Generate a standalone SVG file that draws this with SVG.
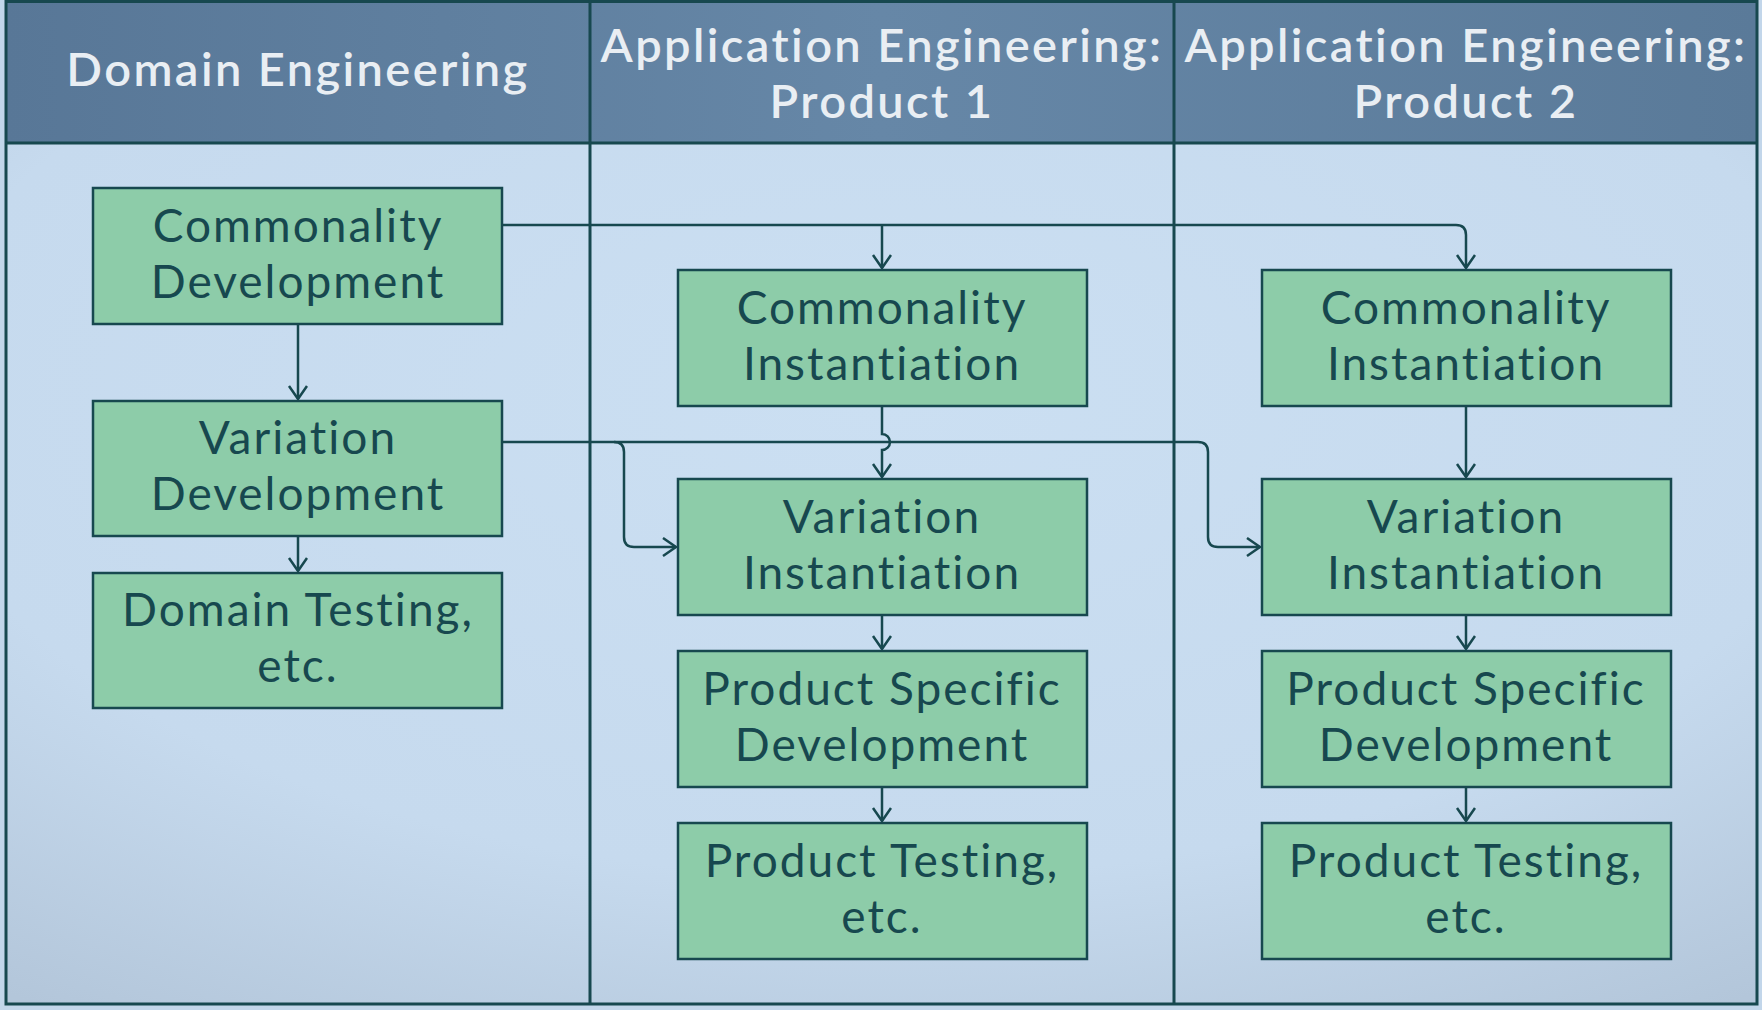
<svg xmlns="http://www.w3.org/2000/svg" width="1762" height="1010" viewBox="0 0 1762 1010">
<style>
.hdr{font-family:Lato,"Open Sans","Liberation Sans",sans-serif;font-size:47px;font-weight:600;fill:#e9eef3;text-anchor:middle;letter-spacing:2.4px}
.box{fill:#8dcca9;stroke:#17484f;stroke-width:2.5}
.lbl{font-family:Lato,"Open Sans","Liberation Sans",sans-serif;font-size:46px;fill:#17484f;text-anchor:middle;letter-spacing:2px}
.ln{fill:none;stroke:#17484f;stroke-width:2.5}
.grid{fill:none;stroke:#17484f;stroke-width:3}
</style>
<defs>
<linearGradient id="hg" x1="0" y1="0" x2="1" y2="0">
<stop offset="0" stop-color="#587797"/>
<stop offset="0.5" stop-color="#6687a7"/>
<stop offset="1" stop-color="#5a7a99"/>
</linearGradient>
<radialGradient id="bg" cx="0.5" cy="0.3" r="0.85">
<stop offset="0" stop-color="#cbdff2"/>
<stop offset="0.65" stop-color="#c6daee"/>
<stop offset="1" stop-color="#b3c6da"/>
</radialGradient>
<marker id="arr" markerUnits="userSpaceOnUse" markerWidth="18" markerHeight="24" refX="14" refY="10" orient="auto">
<path d="M1,1 L14,10 L1,19" fill="none" stroke="#17484f" stroke-width="2.5"/>
</marker>
</defs>
<rect x="0" y="0" width="1762" height="1010" fill="#c2d6ea"/>
<rect x="6" y="143" width="1751" height="861" fill="url(#bg)"/>
<rect x="6" y="1" width="1751" height="142" fill="url(#hg)"/>
<g id="frame">
<rect class="grid" x="6" y="1.5" width="1751" height="1002.5"/>
<line class="grid" x1="6" y1="143" x2="1757" y2="143"/>
<line class="grid" x1="590" y1="0" x2="590" y2="1004"/>
<line class="grid" x1="1174" y1="0" x2="1174" y2="1004"/>
</g>
<g id="headers">
<text class="hdr" x="298" y="86">Domain Engineering</text>
<text class="hdr" x="882" y="62">Application Engineering:</text>
<text class="hdr" x="882" y="118">Product 1</text>
<text class="hdr" x="1466" y="62">Application Engineering:</text>
<text class="hdr" x="1466" y="118">Product 2</text>
</g>
<g id="connectors">
<path class="ln" d="M502,225 H1456 Q1466,225 1466,235 V268" marker-end="url(#arr)"/>
<path class="ln" d="M882,225 V268" marker-end="url(#arr)"/>
<path class="ln" d="M298,324 V399" marker-end="url(#arr)"/>
<path class="ln" d="M298,536 V571" marker-end="url(#arr)"/>
<path class="ln" d="M502,442 H614 Q624,442 624,452 V537 Q624,547 634,547 H676" marker-end="url(#arr)"/>
<path class="ln" d="M614,442 H1198 Q1208,442 1208,452 V537 Q1208,547 1218,547 H1260" marker-end="url(#arr)"/>
<path class="ln" d="M882,406 V434 A8,8 0 0 1 882,450 V477" marker-end="url(#arr)"/>
<path class="ln" d="M1466,406 V477" marker-end="url(#arr)"/>
<path class="ln" d="M882,615 V649" marker-end="url(#arr)"/>
<path class="ln" d="M882,787 V821" marker-end="url(#arr)"/>
<path class="ln" d="M1466,615 V649" marker-end="url(#arr)"/>
<path class="ln" d="M1466,787 V821" marker-end="url(#arr)"/>
</g>
<g id="commonality-development">
<rect class="box" x="93" y="188" width="409" height="136"/>
<text class="lbl" x="298" y="242">Commonality</text>
<text class="lbl" x="298" y="298">Development</text>
</g>
<g id="variation-development">
<rect class="box" x="93" y="401" width="409" height="135"/>
<text class="lbl" x="298" y="454">Variation</text>
<text class="lbl" x="298" y="510">Development</text>
</g>
<g id="domain-testing">
<rect class="box" x="93" y="573" width="409" height="135"/>
<text class="lbl" x="298" y="626">Domain Testing,</text>
<text class="lbl" x="298" y="682">etc.</text>
</g>
<g id="commonality-instantiation-1">
<rect class="box" x="678" y="270" width="409" height="136"/>
<text class="lbl" x="882" y="324">Commonality</text>
<text class="lbl" x="882" y="380">Instantiation</text>
</g>
<g id="variation-instantiation-1">
<rect class="box" x="678" y="479" width="409" height="136"/>
<text class="lbl" x="882" y="533">Variation</text>
<text class="lbl" x="882" y="589">Instantiation</text>
</g>
<g id="product-specific-development-1">
<rect class="box" x="678" y="651" width="409" height="136"/>
<text class="lbl" x="882" y="705">Product Specific</text>
<text class="lbl" x="882" y="761">Development</text>
</g>
<g id="product-testing-1">
<rect class="box" x="678" y="823" width="409" height="136"/>
<text class="lbl" x="882" y="877">Product Testing,</text>
<text class="lbl" x="882" y="933">etc.</text>
</g>
<g id="commonality-instantiation-2">
<rect class="box" x="1262" y="270" width="409" height="136"/>
<text class="lbl" x="1466" y="324">Commonality</text>
<text class="lbl" x="1466" y="380">Instantiation</text>
</g>
<g id="variation-instantiation-2">
<rect class="box" x="1262" y="479" width="409" height="136"/>
<text class="lbl" x="1466" y="533">Variation</text>
<text class="lbl" x="1466" y="589">Instantiation</text>
</g>
<g id="product-specific-development-2">
<rect class="box" x="1262" y="651" width="409" height="136"/>
<text class="lbl" x="1466" y="705">Product Specific</text>
<text class="lbl" x="1466" y="761">Development</text>
</g>
<g id="product-testing-2">
<rect class="box" x="1262" y="823" width="409" height="136"/>
<text class="lbl" x="1466" y="877">Product Testing,</text>
<text class="lbl" x="1466" y="933">etc.</text>
</g>
</svg>
